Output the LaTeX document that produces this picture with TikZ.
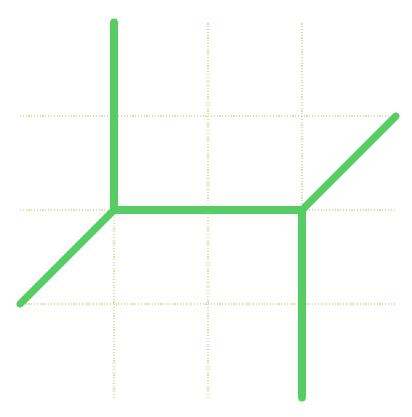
\documentclass[tikz,border=0pt]{standalone}
\usepackage{tikz}
\definecolor{curvegreen}{RGB}{86,204,98}
\definecolor{gridyellow}{RGB}{224,222,168}

\begin{document}
\begin{tikzpicture}[x=2cm, y=2cm,
                    gridline/.style={gridyellow, line width=0.7pt, densely dotted},
                    curve/.style={curvegreen, line width=4.4pt, line join=round, line cap=round}]
  \useasboundingbox (-1.213,-2.202) rectangle (3.16,2.234);
  \foreach \y in {-1,0,1}
    \draw[gridline] (-1,\y) -- (3,\y);
  \foreach \x in {0,1,2}
    \draw[gridline] (\x,-2) -- (\x,2);
  \coordinate (A) at (0,2);
  \coordinate (L) at (0,0);
  \coordinate (R) at (2,0);
  \coordinate (B) at (-1,-1);
  \coordinate (C) at (2,-2);
  \coordinate (D) at (3,1);
  \draw[curve] (A) -- (L) -- (R) -- (C);
  \draw[curve] (B) -- (L);
  \draw[curve] (R) -- (D);
\end{tikzpicture}
\end{document}
